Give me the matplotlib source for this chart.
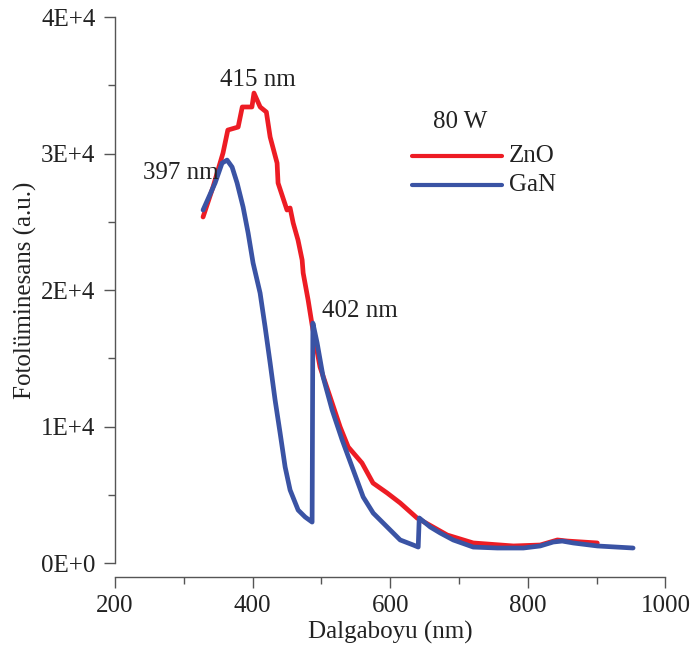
import matplotlib

matplotlib.use("Agg")
import matplotlib.pyplot as plt
from matplotlib.ticker import FixedLocator, FuncFormatter, MultipleLocator

plt.rcParams["font.family"] = ["Liberation Serif", "DejaVu Serif"]

# ZnO photoluminescence spectrum (80 W)
zno_wl = [328, 342.5, 357, 364, 379, 385, 399, 402, 411, 420, 425.5, 435.6, 437,
          450, 454.5, 459, 466, 472, 473.5, 480.7, 486.5, 498, 512.7, 527.3, 539,
          559, 575, 595.6, 614.5, 639, 683, 720.7, 779, 818, 843, 857.5, 901]
zno_pl = [25350, 27550, 30040, 31720, 31940, 33410, 33410, 34430, 33410, 33040,
          31210, 29300, 27840, 25860, 26010, 24910, 23660, 22200, 21250, 19270,
          17440, 14360, 12160, 9960, 8500, 7330, 5860, 5130, 4400, 3300, 2050,
          1470, 1250, 1320, 1690, 1610, 1470]

# GaN photoluminescence spectrum (80 W), with two step artefacts
gan_wl = [328, 345.5, 355.6, 362.9, 370.2, 377.5, 386.2, 393.5, 400.7, 410.9,
          418.2, 425.5, 432.7, 440, 447.3, 454.5, 466.2, 476.4, 486.5, 487.6,
          493.8, 502.5, 515.6, 530.2, 544.7, 560.7, 575.3, 595.6, 614.5, 633.5,
          640.7, 642.2, 658.2, 672.7, 691.6, 720.7, 755.6, 793.5, 818, 837, 850,
          866, 901, 953]
gan_pl = [25860, 27840, 29300, 29520, 29010, 27840, 26080, 24180, 21980, 19780,
          17290, 14650, 11940, 9520, 7030, 5350, 3880, 3370, 3000, 17580, 16120,
          13630, 11210, 9010, 7030, 4840, 3660, 2640, 1690, 1320, 1170, 3300,
          2640, 2200, 1690, 1170, 1100, 1100, 1250, 1540, 1610, 1470, 1250, 1100]

y_ticks = [0, 10000, 20000, 30000, 40000]
x_ticks = [200, 400, 600, 800, 1000]

red = "#ed1c24"
blue = "#3a53a4"
axis_grey = "#555555"
text_col = "#222222"
fs = 18

fig = plt.figure(figsize=(6.91, 6.50), dpi=100)
ax = fig.add_axes([0.1664, 0.1338, 0.7966, 0.84])

ax.plot(zno_wl, zno_pl, color=red, linewidth=3.4, solid_joinstyle="round",
        solid_capstyle="round", zorder=2)
ax.plot(gan_wl, gan_pl, color=blue, linewidth=3.4, solid_joinstyle="round",
        solid_capstyle="round", zorder=3)

ax.set_xlim(200, 1000)
ax.set_ylim(0, 40000)

for side in ("top", "right"):
    ax.spines[side].set_visible(False)
ax.spines["bottom"].set_position(("outward", 10))
for side in ("left", "bottom"):
    ax.spines[side].set_color(axis_grey)
    ax.spines[side].set_linewidth(1.0)

ax.xaxis.set_major_locator(FixedLocator(x_ticks))
ax.xaxis.set_minor_locator(MultipleLocator(100))
ax.yaxis.set_major_locator(FixedLocator(y_ticks))
ax.yaxis.set_minor_locator(MultipleLocator(5000))
ax.yaxis.set_major_formatter(FuncFormatter(lambda v, _: f"{int(round(v / 10000))}E+{4 if v else 0}"))

ax.tick_params(axis="both", which="major", direction="out", length=8,
               width=1.0, color=axis_grey, labelsize=fs, labelcolor=text_col)
ax.tick_params(axis="both", which="minor", direction="out", length=5,
               width=1.0, color=axis_grey)
ax.tick_params(axis="x", which="major", pad=5)
ax.tick_params(axis="y", which="major", pad=6)

ax.set_xlabel("Dalgaboyu (nm)", fontsize=fs, color=text_col, labelpad=3)
ax.set_ylabel("Fotolüminesans (a.u.)", fontsize=fs, color=text_col, labelpad=3)

# Peak labels
ax.text(407, 35400, "415 nm", fontsize=fs, ha="center", va="center", color=text_col)
ax.text(296, 28600, "397 nm", fontsize=fs, ha="center", va="center", color=text_col)
ax.text(556, 18500, "402 nm", fontsize=fs, ha="center", va="center", color=text_col)

# Legend drawn by hand in data coordinates
ax.text(701, 32300, "80 W", fontsize=fs, ha="center", va="center", color=text_col)
ax.plot([632, 763], [29850, 29850], color=red, linewidth=3.0,
        solid_capstyle="round", clip_on=False)
ax.plot([632, 763], [27700, 27700], color=blue, linewidth=3.0,
        solid_capstyle="round", clip_on=False)
ax.text(772, 29850, "ZnO", fontsize=fs, ha="left", va="center", color=text_col)
ax.text(772, 27700, "GaN", fontsize=fs, ha="left", va="center", color=text_col)

fig.savefig("out.png", dpi=100)
